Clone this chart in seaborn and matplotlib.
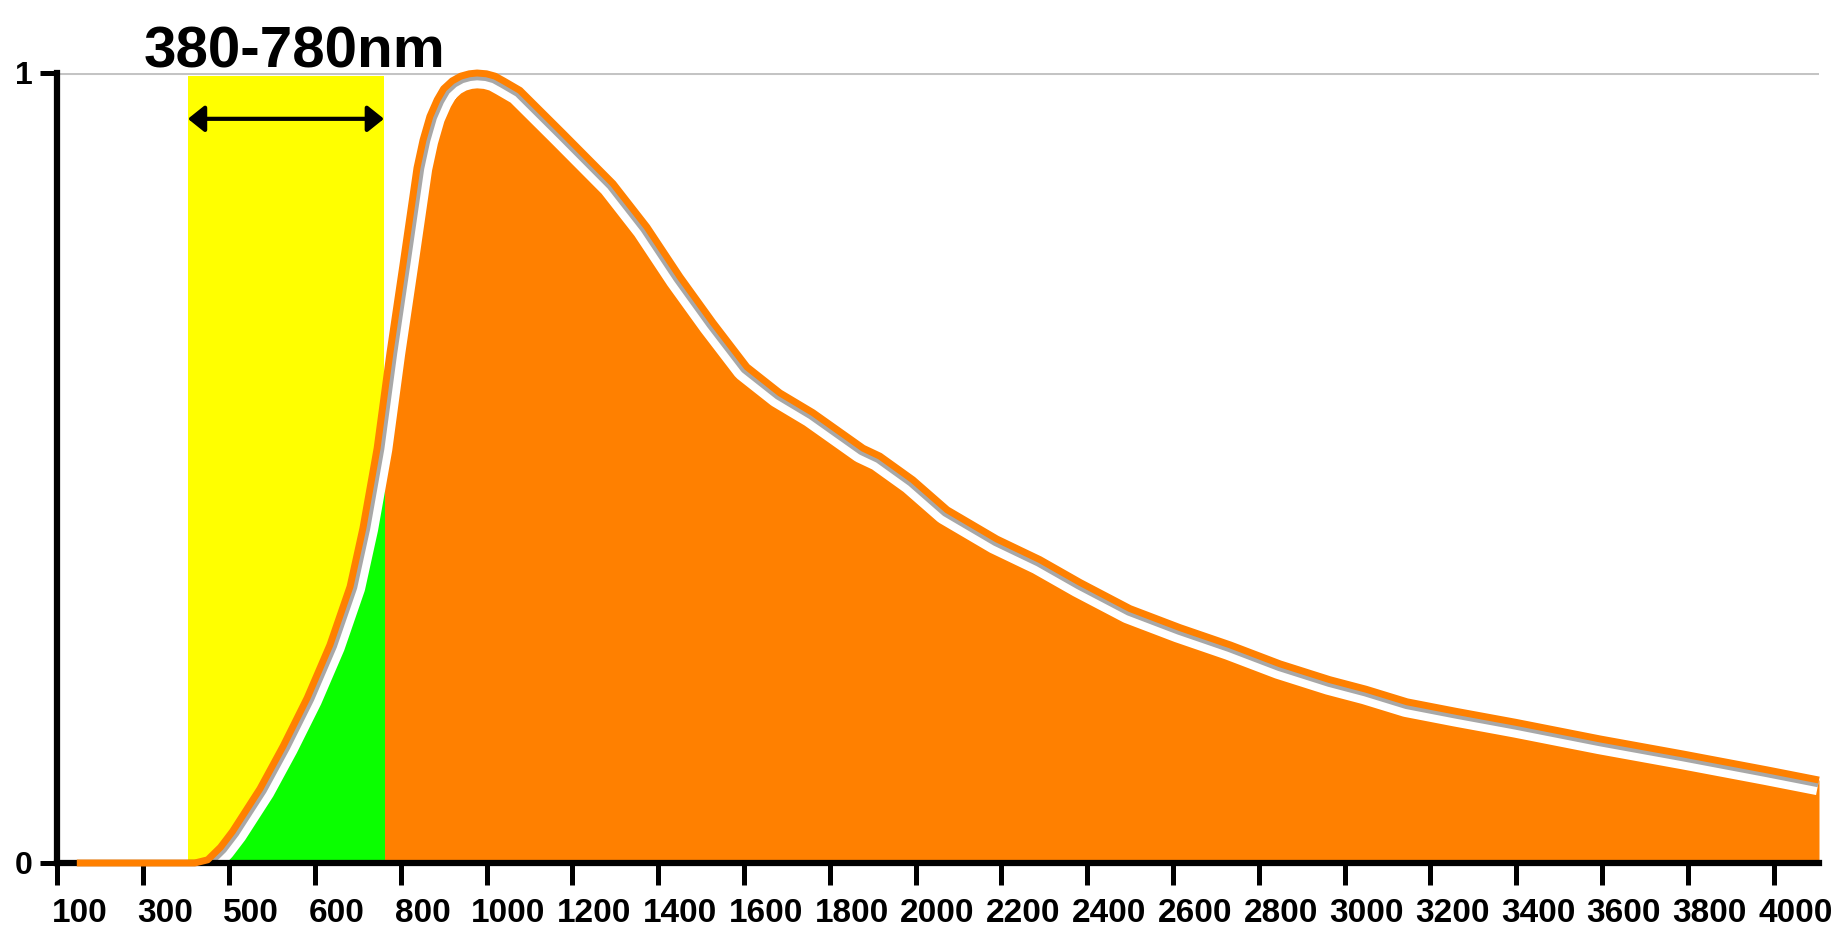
import numpy as np
import matplotlib
matplotlib.use('Agg')
import matplotlib.pyplot as plt
import matplotlib.transforms as mtransforms
import seaborn as sns

# Подписи оси x: деления стоят через равные промежутки, хотя шаг значений разный
tick_wl = [100, 300, 500, 600, 800, 1000, 1200, 1400, 1600, 1800, 2000,
           2200, 2400, 2600, 2800, 3000, 3200, 3400, 3600, 3800, 4000]
tick_labels = [str(t) for t in tick_wl]
y_ticks = [0, 1]
y_labels = ['0', '1']

# Кривая (длина волны, нм -> относительная интенсивность)
wavelength = [145, 300, 420, 450, 480, 504, 536, 563, 591, 635, 682, 712, 745, 775,
              806, 822, 838, 852, 868, 885, 900, 920, 940, 960, 978, 1000, 1020, 1040,
              1078, 1178, 1295, 1374, 1451, 1528, 1607, 1684, 1761, 1800, 1878, 1917,
              1994, 2074, 2190, 2290, 2384, 2500, 2616, 2734, 2850, 2966, 3050, 3146,
              3260, 3400, 3596, 3789, 3984, 4106]
intensity = [0, 0, 0, 0.004, 0.02, 0.04, 0.094, 0.148, 0.209, 0.276, 0.35, 0.424, 0.525,
             0.646, 0.76, 0.82, 0.88, 0.915, 0.945, 0.966, 0.98, 0.99, 0.996, 0.999, 1.0,
             0.999, 0.996, 0.99, 0.978, 0.924, 0.86, 0.805, 0.742, 0.684, 0.628, 0.595,
             0.57, 0.555, 0.525, 0.515, 0.485, 0.447, 0.41, 0.384, 0.355, 0.322, 0.298,
             0.276, 0.252, 0.232, 0.22, 0.204, 0.192, 0.178, 0.157, 0.138, 0.118, 0.105]

# Видимый диапазон (жёлтая полоса)
band_lo, band_hi = 404, 761
band_label = '380-780nm'

ORANGE = '#ff8000'
GREEN = '#0aff00'
YELLOW = '#ffff00'

sns.set_theme(style='ticks')
plt.rcParams['font.family'] = ['Liberation Sans', 'DejaVu Sans']
plt.rcParams['font.weight'] = 'bold'

fig = plt.figure(figsize=(18.49, 9.33), dpi=100)
ax = fig.add_axes([57.5 / 1849, 70 / 933, (1819 - 57.5) / 1849, 790 / 933])

# неравномерная шкала: каждое значение из tick_wl -> своя позиция
pos = np.arange(len(tick_wl))


def fwd(x):
    x = np.asarray(x, dtype=float)
    out = np.interp(x, tick_wl, pos)
    out = np.where(x > tick_wl[-1], pos[-1] + (x - tick_wl[-1]) / 200, out)
    out = np.where(x < tick_wl[0], (x - tick_wl[0]) / 200, out)
    return out


def inv(p):
    p = np.asarray(p, dtype=float)
    out = np.interp(p, pos, tick_wl)
    out = np.where(p > pos[-1], tick_wl[-1] + (p - pos[-1]) * 200, out)
    out = np.where(p < 0, tick_wl[0] + p * 200, out)
    return out


ax.set_xscale('function', functions=(fwd, inv))
ax.set_xlim(100, 4106)
ax.set_ylim(0, 1)

band = ax.axvspan(band_lo, band_hi, ymin=0, ymax=0.996, color=YELLOW, lw=0, zorder=0.5)
ax.axhline(1, color='#c4c4c4', lw=2.2, zorder=0.8)

fill = ax.fill_between(wavelength, 0, intensity, color=ORANGE, lw=0, zorder=1)
green = ax.fill_between(wavelength, 0, intensity, color=GREEN, lw=0, zorder=1.1)
green.set_clip_path(band)
fill_path = fill.get_paths()[0]

# белая полоса и серая кайма под оранжевой линией, только внутри заливки
sns.lineplot(x=wavelength, y=intensity, ax=ax, color='white', lw=22, zorder=2,
             sort=False, solid_joinstyle='round', solid_capstyle='butt')
sns.lineplot(x=wavelength, y=intensity, ax=ax, color='#a8a8a8', lw=10.5, zorder=2.1,
             sort=False, solid_joinstyle='round', solid_capstyle='butt')
for ln in ax.lines[-2:]:
    ln.set_clip_path(fill_path, ax.transData)

sns.lineplot(x=wavelength, y=intensity, ax=ax, color=ORANGE, lw=5, zorder=5, clip_on=False,
             solid_joinstyle='round', solid_capstyle='butt', sort=False)

ax.annotate('', xy=(band_hi, 0.942), xytext=(band_lo, 0.942),
            arrowprops=dict(arrowstyle='<|-|>,head_length=0.5,head_width=0.4', color='black',
                            lw=3, mutation_scale=20, shrinkA=0, shrinkB=0), zorder=6)

ax.set_xticks(tick_wl, tick_labels)
ax.set_yticks(y_ticks, y_labels)
ax.tick_params(axis='x', direction='out', length=16, width=3.6, pad=9, labelsize=24,
               color='black', labelcolor='black', bottom=True)
ax.tick_params(axis='y', direction='out', length=12, width=3.6, pad=6, labelsize=23,
               color='black', labelcolor='black', left=True)
ax.minorticks_off()
for lab in ax.get_xticklabels() + ax.get_yticklabels():
    lab.set_fontweight('bold')

# подписи оси x смещены вправо от своих делений
offset = mtransforms.ScaledTranslation(22 / 100, 0, fig.dpi_scale_trans)
for lab in ax.get_xticklabels():
    lab.set_transform(lab.get_transform() + offset)

ax.spines['top'].set_visible(False)
ax.spines['right'].set_visible(False)
for s in ['left', 'bottom']:
    ax.spines[s].set_linewidth(4.5)
    ax.spines[s].set_color('black')
    ax.spines[s].set_zorder(4)
ax.grid(False)
ax.set_xlabel('')
ax.set_ylabel('')

fig.text(295 / 1849, 1 - 67 / 933, band_label, ha='center', va='baseline',
         fontsize=42, fontweight='bold', color='black')

fig.savefig('out.png', dpi=100)
